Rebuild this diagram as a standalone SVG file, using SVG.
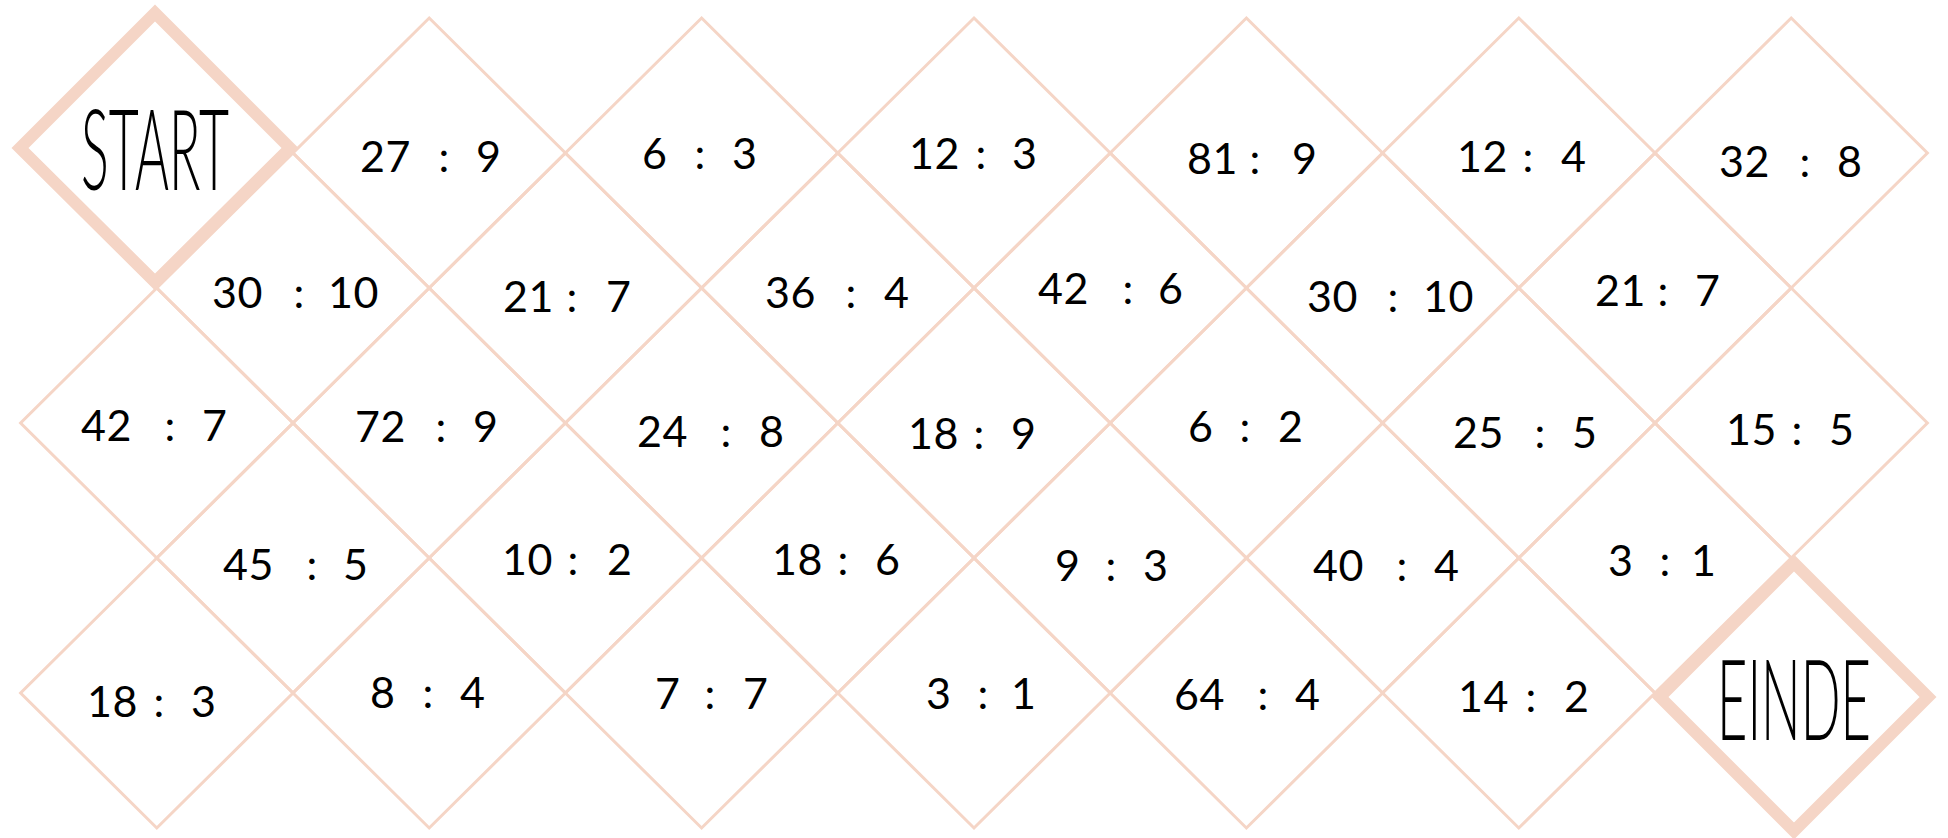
<svg xmlns="http://www.w3.org/2000/svg" xmlns:xlink="http://www.w3.org/1999/xlink" width="1948" height="838" viewBox="0 0 1948 838">
<style>
.cell{fill:none;stroke:#f5d5c6;stroke-width:3;stroke-linejoin:miter}
.big{fill:none;stroke:#f5d5c6;stroke-width:12;stroke-linejoin:miter}
.n{font-family:Lato,"Liberation Sans",sans-serif;font-size:43px;fill:#000;letter-spacing:0.5px}
.c{text-anchor:middle;letter-spacing:0}
.t{font-family:Lato,"DejaVu Sans","Liberation Sans",sans-serif;font-weight:300;font-size:113px;fill:#000}
</style>
<defs>
<polygon id="d" points="0,-135 136.2,0 0,135 -136.2,0"/>
</defs>
<rect width="1948" height="838" fill="#fff"/>
<g id="connectors"></g>
<g id="nodes">
<!-- Row A -->
<g id="a2"><use xlink:href="#d" class="cell" x="429.2" y="153"/><text class="n" y="172"><tspan x="360">27</tspan><tspan class="c" x="444"> : </tspan><tspan x="476">9</tspan></text></g>
<g id="a3"><use xlink:href="#d" class="cell" x="701.6" y="153"/><text class="n" y="169"><tspan x="642">6</tspan><tspan class="c" x="700"> : </tspan><tspan x="732">3</tspan></text></g>
<g id="a4"><use xlink:href="#d" class="cell" x="974" y="153"/><text class="n" y="169"><tspan x="909">12</tspan><tspan class="c" x="981"> : </tspan><tspan x="1012">3</tspan></text></g>
<g id="a5"><use xlink:href="#d" class="cell" x="1246.4" y="153"/><text class="n" y="174"><tspan x="1187">81</tspan><tspan class="c" x="1255"> : </tspan><tspan x="1292">9</tspan></text></g>
<g id="a6"><use xlink:href="#d" class="cell" x="1518.8" y="153"/><text class="n" y="172"><tspan x="1457">12</tspan><tspan class="c" x="1528"> : </tspan><tspan x="1561">4</tspan></text></g>
<g id="a7"><use xlink:href="#d" class="cell" x="1791.2" y="153"/><text class="n" y="177"><tspan x="1719">32</tspan><tspan class="c" x="1805"> : </tspan><tspan x="1837">8</tspan></text></g>
<!-- Row B -->
<g id="b1"><use xlink:href="#d" class="cell" x="293" y="288"/><text class="n" y="308"><tspan x="212">30</tspan><tspan class="c" x="299"> : </tspan><tspan x="328">10</tspan></text></g>
<g id="b2"><use xlink:href="#d" class="cell" x="565.4" y="288"/><text class="n" y="312"><tspan x="503">21</tspan><tspan class="c" x="572"> : </tspan><tspan x="606">7</tspan></text></g>
<g id="b3"><use xlink:href="#d" class="cell" x="837.8" y="288"/><text class="n" y="308"><tspan x="765">36</tspan><tspan class="c" x="851"> : </tspan><tspan x="884">4</tspan></text></g>
<g id="b4"><use xlink:href="#d" class="cell" x="1110.2" y="288"/><text class="n" y="304"><tspan x="1038">42</tspan><tspan class="c" x="1128"> : </tspan><tspan x="1158">6</tspan></text></g>
<g id="b5"><use xlink:href="#d" class="cell" x="1382.6" y="288"/><text class="n" y="312"><tspan x="1307">30</tspan><tspan class="c" x="1393"> : </tspan><tspan x="1423">10</tspan></text></g>
<g id="b6"><use xlink:href="#d" class="cell" x="1655" y="288"/><text class="n" y="306"><tspan x="1595">21</tspan><tspan class="c" x="1663"> : </tspan><tspan x="1695">7</tspan></text></g>
<!-- Row C -->
<g id="c1"><use xlink:href="#d" class="cell" x="156.8" y="423"/><text class="n" y="441"><tspan x="81">42</tspan><tspan class="c" x="170"> : </tspan><tspan x="202">7</tspan></text></g>
<g id="c2"><use xlink:href="#d" class="cell" x="429.2" y="423"/><text class="n" y="442"><tspan x="355">72</tspan><tspan class="c" x="441"> : </tspan><tspan x="473">9</tspan></text></g>
<g id="c3"><use xlink:href="#d" class="cell" x="701.6" y="423"/><text class="n" y="447"><tspan x="637">24</tspan><tspan class="c" x="726"> : </tspan><tspan x="759">8</tspan></text></g>
<g id="c4"><use xlink:href="#d" class="cell" x="974" y="423"/><text class="n" y="449"><tspan x="908">18</tspan><tspan class="c" x="979"> : </tspan><tspan x="1011">9</tspan></text></g>
<g id="c5"><use xlink:href="#d" class="cell" x="1246.4" y="423"/><text class="n" y="442"><tspan x="1188">6</tspan><tspan class="c" x="1245"> : </tspan><tspan x="1278">2</tspan></text></g>
<g id="c6"><use xlink:href="#d" class="cell" x="1518.8" y="423"/><text class="n" y="448"><tspan x="1453">25</tspan><tspan class="c" x="1540"> : </tspan><tspan x="1572">5</tspan></text></g>
<g id="c7"><use xlink:href="#d" class="cell" x="1791.2" y="423"/><text class="n" y="445"><tspan x="1726">15</tspan><tspan class="c" x="1797"> : </tspan><tspan x="1829">5</tspan></text></g>
<!-- Row D -->
<g id="d1"><use xlink:href="#d" class="cell" x="293" y="558"/><text class="n" y="580"><tspan x="223">45</tspan><tspan class="c" x="312"> : </tspan><tspan x="343">5</tspan></text></g>
<g id="d2"><use xlink:href="#d" class="cell" x="565.4" y="558"/><text class="n" y="575"><tspan x="502">10</tspan><tspan class="c" x="573"> : </tspan><tspan x="607">2</tspan></text></g>
<g id="d3"><use xlink:href="#d" class="cell" x="837.8" y="558"/><text class="n" y="575"><tspan x="772">18</tspan><tspan class="c" x="843"> : </tspan><tspan x="875">6</tspan></text></g>
<g id="d4"><use xlink:href="#d" class="cell" x="1110.2" y="558"/><text class="n" y="581"><tspan x="1055">9</tspan><tspan class="c" x="1111"> : </tspan><tspan x="1143">3</tspan></text></g>
<g id="d5"><use xlink:href="#d" class="cell" x="1382.6" y="558"/><text class="n" y="581"><tspan x="1313">40</tspan><tspan class="c" x="1402"> : </tspan><tspan x="1434">4</tspan></text></g>
<g id="d6"><use xlink:href="#d" class="cell" x="1655" y="558"/><text class="n" y="576"><tspan x="1608">3</tspan><tspan class="c" x="1665"> : </tspan><tspan x="1691">1</tspan></text></g>
<!-- Row E -->
<g id="e1"><use xlink:href="#d" class="cell" x="156.8" y="693"/><text class="n" y="717"><tspan x="87">18</tspan><tspan class="c" x="159"> : </tspan><tspan x="191">3</tspan></text></g>
<g id="e2"><use xlink:href="#d" class="cell" x="429.2" y="693"/><text class="n" y="708"><tspan x="370">8</tspan><tspan class="c" x="428"> : </tspan><tspan x="460">4</tspan></text></g>
<g id="e3"><use xlink:href="#d" class="cell" x="701.6" y="693"/><text class="n" y="709"><tspan x="655">7</tspan><tspan class="c" x="710"> : </tspan><tspan x="743">7</tspan></text></g>
<g id="e4"><use xlink:href="#d" class="cell" x="974" y="693"/><text class="n" y="709"><tspan x="926">3</tspan><tspan class="c" x="983"> : </tspan><tspan x="1011">1</tspan></text></g>
<g id="e5"><use xlink:href="#d" class="cell" x="1246.4" y="693"/><text class="n" y="710"><tspan x="1174">64</tspan><tspan class="c" x="1263"> : </tspan><tspan x="1295">4</tspan></text></g>
<g id="e6"><use xlink:href="#d" class="cell" x="1518.8" y="693"/><text class="n" y="712"><tspan x="1458">14</tspan><tspan class="c" x="1531"> : </tspan><tspan x="1564">2</tspan></text></g>
<!-- START / EINDE -->
<g id="start"><polygon class="big" points="155,13 290,148 155,282 20,148"/><text class="t" transform="translate(81,190) scale(0.44,1)" x="0" y="0" textLength="336.4" lengthAdjust="spacingAndGlyphs">START</text></g>
<g id="einde"><polygon class="big" points="1794,563 1928,697 1794,831 1660,697"/><text class="t" transform="translate(1717,740) scale(0.48,1)" x="0" y="0" textLength="320.8" lengthAdjust="spacingAndGlyphs">EINDE</text></g>
</g>
</svg>
